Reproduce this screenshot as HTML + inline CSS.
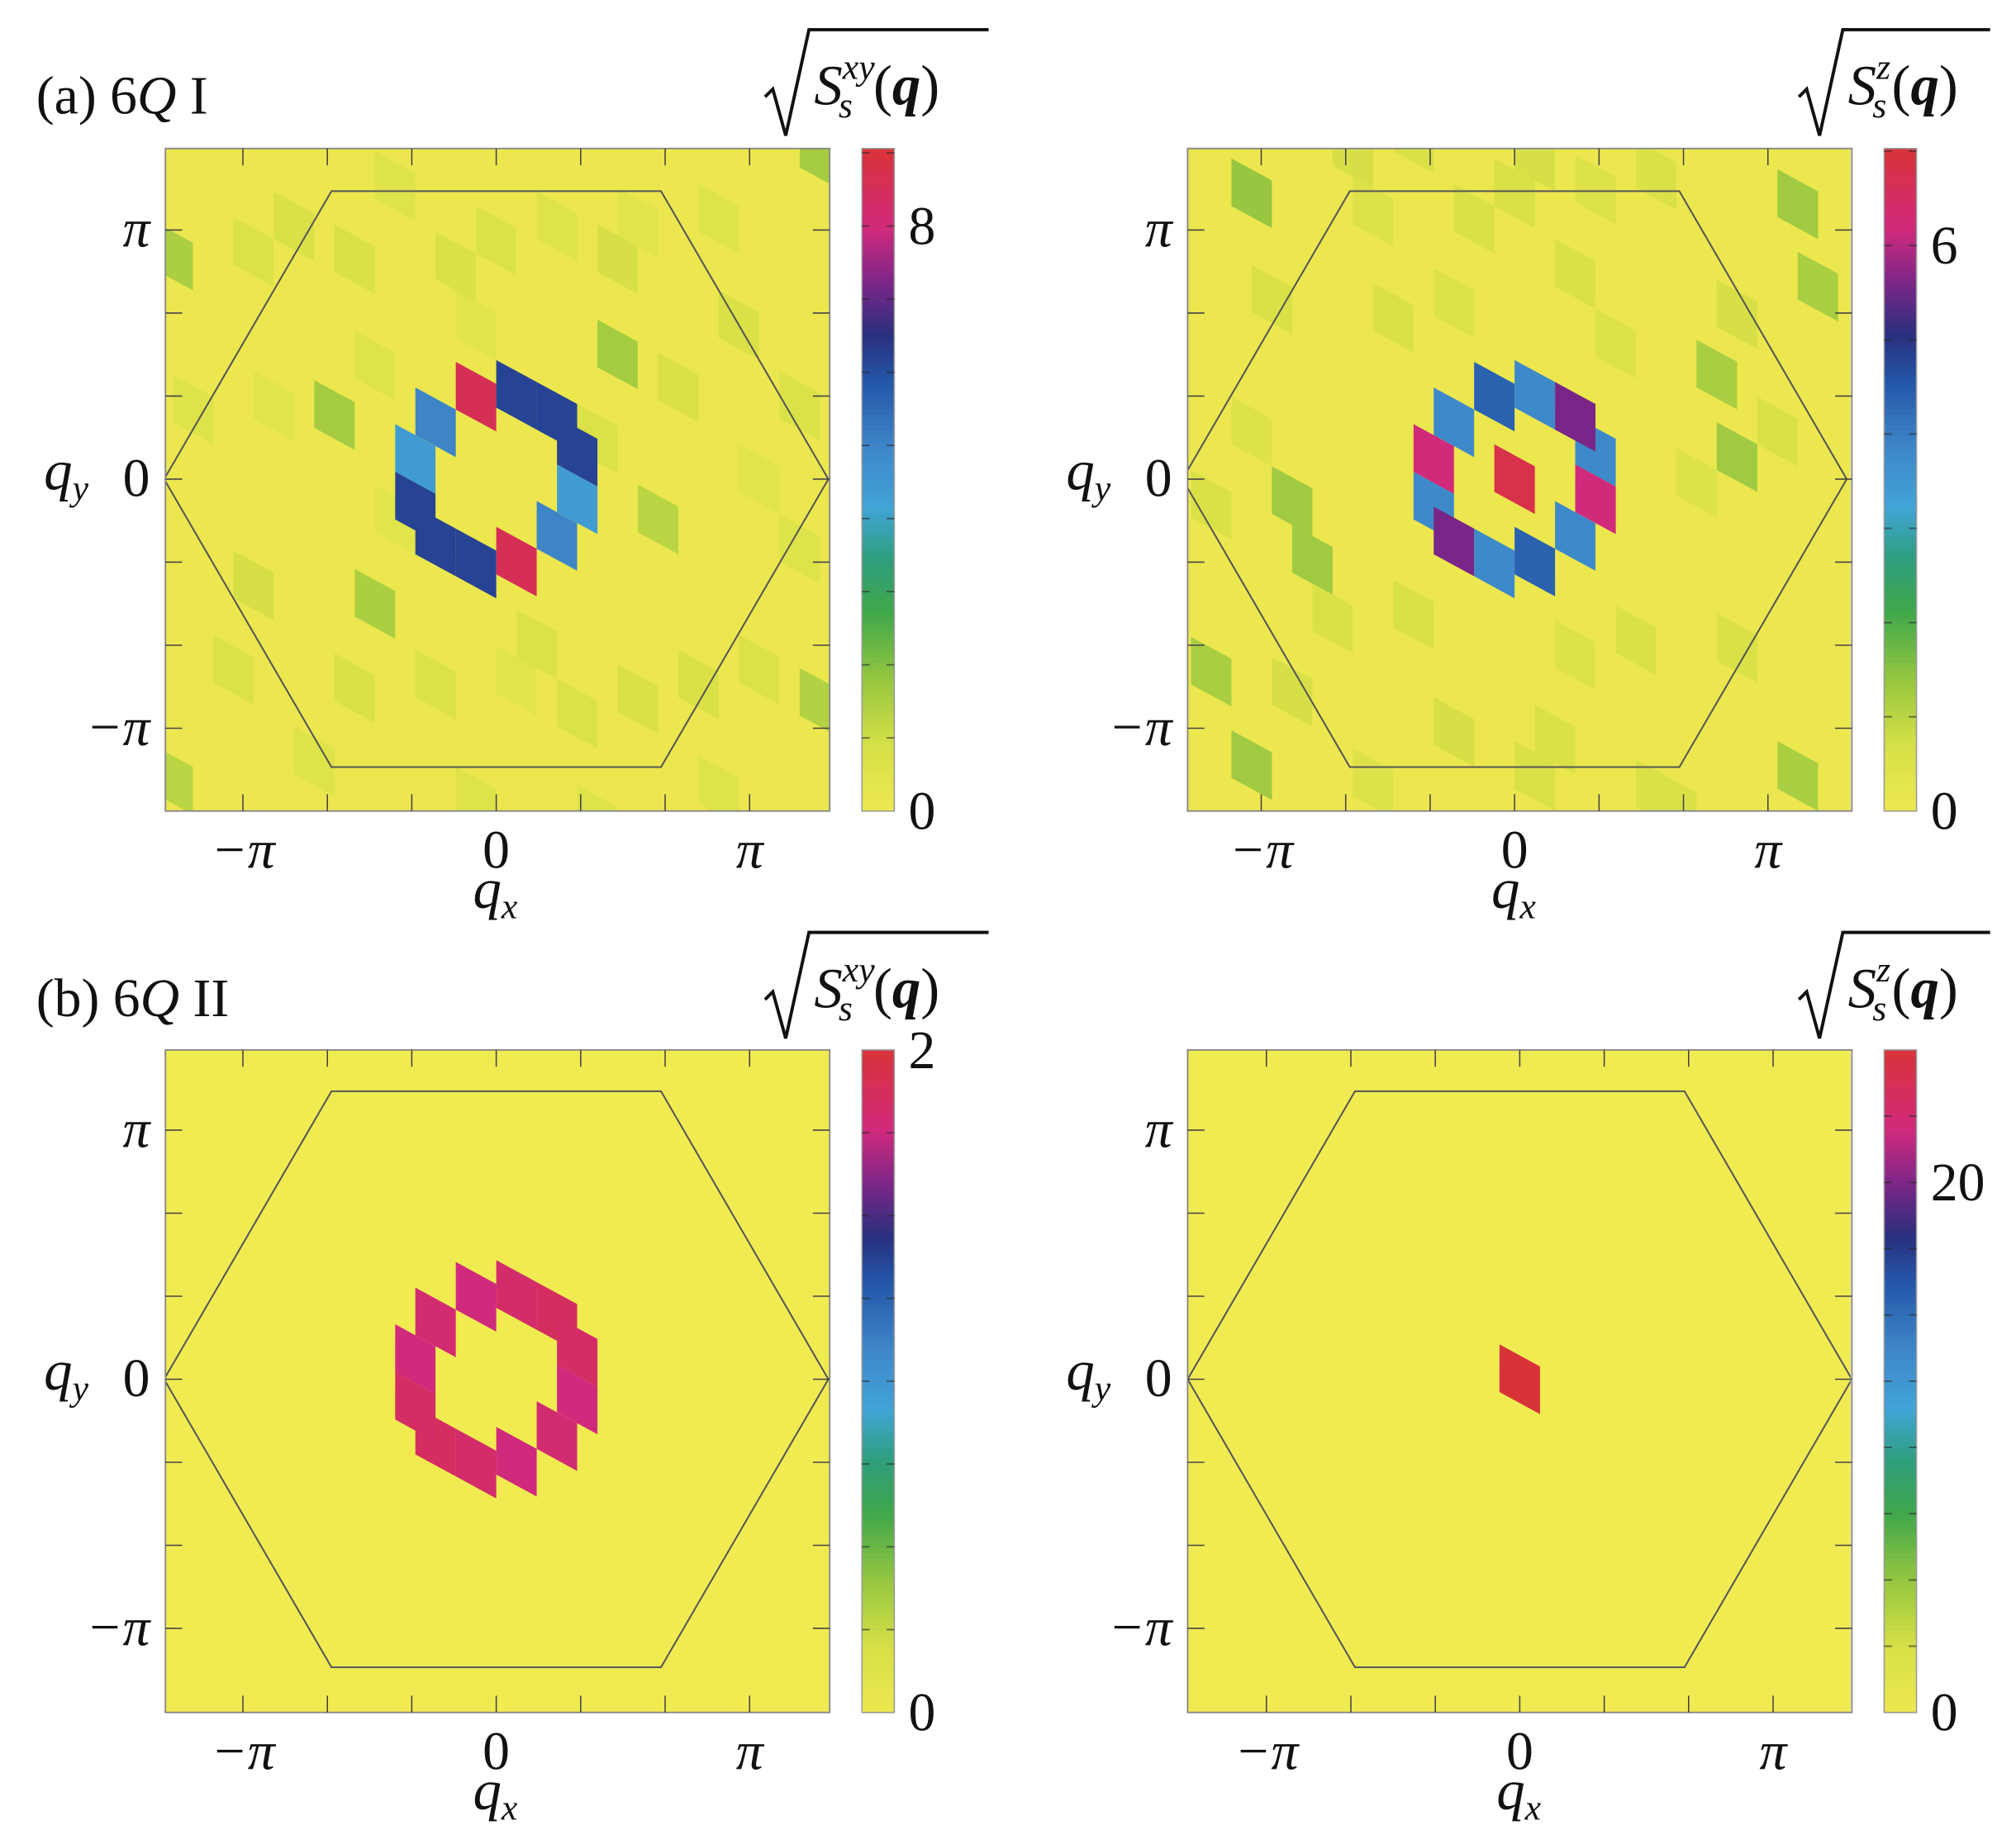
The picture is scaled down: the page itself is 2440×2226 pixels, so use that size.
<!DOCTYPE html>
<html><head><meta charset="utf-8"><style>
html,body{margin:0;padding:0;background:#fff;}
svg{display:block;}
text{font-family:"Liberation Serif","DejaVu Serif",serif;fill:#111;}
</style></head>
<body>
<svg id="fig" xmlns="http://www.w3.org/2000/svg" width="2440" height="2226" viewBox="0 0 1560 1424" preserveAspectRatio="none">
<defs>
<clipPath id="clipA1"><rect x="128" y="115" width="514" height="513"/></clipPath>
<clipPath id="clipA2"><rect x="919" y="115" width="513" height="513"/></clipPath>
<clipPath id="clipB1"><rect x="128" y="813" width="514" height="513"/></clipPath>
<clipPath id="clipB2"><rect x="919" y="813" width="513" height="513"/></clipPath>
</defs>
<g id="root"></g>
</svg>
<script>
// ---- data: cells on skewed lattice [a,b], values ----
const ringA1Pos = [[-3,-1],[3,1],[-4,1],[4,-1],[1,-4],[3,-4],[4,-3],[-1,4],[-3,4],[-4,3],[-1,-3],[1,3]];
const ringA1Val = [5.0,5.0,4.4,4.4,6.2,6.2,6.2,6.2,6.2,6.2,8.6,8.6];
const noiseA1Pos = [[-8,1],[6,-8],[-6,8],[8,-2],[-16,-2],[16,-21],[16,2],[-16,20],[-10,-6],[2,6],[-2,-8],[10,4],[-12,10],[12,-12],[0,-10],[4,8],
  [-14,-10],[-12,-4],[-9,-12],[-7,-6],[-5,-10],[-3,-14],[1,-16],[3,-12],[5,-4],[7,-14],[9,-8],[11,-16],[13,-6],[15,-10],
  [-15,4],[-13,14],[-11,2],[-9,16],[-7,12],[-5,4],[-3,10],[-1,14],[1,8],[3,16],[5,12],[7,6],[9,12],[11,8],[13,2],[15,-4],[-1,-6],[6,-12],[-6,-2]];
const noiseA1Val = [1.6,1.6,1.5,1.3,1.5,1.6,1.4,1.3,0.8,0.7,0.8,0.8,0.9,0.8,0.7,0.7,
  0.6,0.7,0.5,0.8,0.6,0.7,0.5,0.6,0.7,0.5,0.8,0.6,0.5,0.7,
  0.6,0.7,0.5,0.6,0.8,0.5,0.7,0.6,0.5,0.7,0.6,0.8,0.5,0.6,0.7,0.6,0.5,0.9,0.6];

const ringA2Pos = [[-3,-1],[1,-4],[4,-3],[3,1],[-1,4],[-4,3],[-1,-3],[1,3],[3,-4],[-3,4],[-4,1],[4,-1],[0,0]];
const ringA2Val = [3.8,3.8,3.8,3.8,3.8,3.8,4.4,4.4,5.6,5.6,6.2,6.2,6.8];
const noiseA2Pos = [[-13,-6],[-11,6],[-10,8],[11,-6],[10,-9],[14,-18],[15,-15],[-13,18],[-15,15],[14,6],[-6,-4],[6,4],[-8,-10],[8,10],[0,-12],[2,10],
  [-14,-12],[-12,-2],[-9,-14],[-7,-8],[-5,-12],[-3,-6],[1,-14],[3,-10],[5,-8],[7,-16],[9,-4],[11,-12],[13,-8],
  [-15,8],[-13,4],[-11,14],[-9,10],[-7,16],[-5,8],[-3,12],[-1,16],[1,12],[3,6],[5,14],[7,10],[9,16],[11,2],[13,12],[-2,-10],[4,-14]];
const noiseA2Val = [1.4,1.3,1.3,1.3,1.2,1.3,1.2,1.3,1.2,1.2,0.6,0.6,0.7,0.6,0.6,0.6,
  0.5,0.6,0.7,0.5,0.6,0.5,0.7,0.6,0.5,0.6,0.5,0.7,0.6,
  0.6,0.5,0.7,0.6,0.5,0.6,0.7,0.5,0.6,0.5,0.7,0.6,0.5,0.6,0.5,0.6,0.5];

const ringB1Pos = [[-3,-1],[3,1],[-4,1],[4,-1],[1,-4],[3,-4],[4,-3],[-1,4],[-3,4],[-4,3],[-1,-3],[1,3]];
const ringB1Val = [1.8,1.8,1.76,1.76,1.82,1.86,1.84,1.82,1.86,1.84,1.76,1.76];
const noiseB1Pos = [];
const noiseB1Val = [];

const ringB2Pos = [[0,0]];
const ringB2Val = [25];
const noiseB2Pos = [];
const noiseB2Val = [];

const cbarMaxA1 = 9.06, cbarMaxA2 = 7.03, cbarMaxB1 = 2.0, cbarMaxB2 = 25.0;
const cbarLabelsA1 = [0, 8], cbarLabelsA2 = [0, 6], cbarLabelsB1 = [0, 2], cbarLabelsB2 = [0, 20];
const cbarStepA1 = 1, cbarStepA2 = 1, cbarStepB1 = 0.25, cbarStepB2 = 2.5;
const axisTickLabels = ["\u2212\u03c0", "0", "\u03c0"];
const axisTickValues = [-Math.PI, 0, Math.PI];

// ---- rendering ----
const NS = "http://www.w3.org/2000/svg";
const root = document.getElementById('root');
function mk(tag, attrs, parent) {
  const e = document.createElementNS(NS, tag);
  for (const k in attrs) e.setAttribute(k, attrs[k]);
  (parent || root).appendChild(e);
  return e;
}
const stops = [[0,[238,232,80]],[0.1,[214,224,70]],[0.2,[150,198,64]],[0.3,[64,168,74]],[0.38,[46,158,124]],[0.46,[66,164,216]],[0.55,[62,134,200]],[0.65,[36,86,168]],[0.72,[42,47,126]],[0.8,[126,38,136]],[0.88,[208,42,124]],[1,[217,51,58]]];
function cmap(t) {
  t = Math.max(0, Math.min(1, t));
  for (let i = 1; i < stops.length; i++) {
    if (t <= stops[i][0]) {
      const a = stops[i-1], b = stops[i], f = (t - a[0]) / (b[0] - a[0]);
      const c = a[1].map((v, k) => Math.round(v + (b[1][k] - v) * f));
      return `rgb(${c[0]},${c[1]},${c[2]})`;
    }
  }
  return 'rgb(217,51,58)';
}
const W = 31.3, H = 36.9, SL = 0.544;
const PX = 62.4, PY = 61.4;

function panel(cfg) {
  const {x0, y0, cx, cy, clip, pos, val, npos, nval, max, labels, step, bg, name} = cfg;
  const g = mk('g', {'clip-path': `url(#${clip})`});
  
  
  const bgr = mk('rect', {x: x0, y: y0, width: 514, height: 513, fill: bg}, g);
  
  
  const draw = (p, v, kind) => {
    const ccx = cx + p[0] * W / 2, ccy = cy + SL * p[0] * W / 2 + p[1] * H / 2;
    const pts = [[ccx - W/2, ccy - H/2 - SL*W/2], [ccx + W/2, ccy - H/2 + SL*W/2], [ccx + W/2, ccy + H/2 + SL*W/2], [ccx - W/2, ccy + H/2 - SL*W/2]];
    const poly = mk('polygon', {points: pts.map(q => q[0].toFixed(1) + ',' + q[1].toFixed(1)).join(' '), fill: cmap(v / max)}, g);
    
    
  };
  npos.forEach((p, i) => draw(p, nval[i], 'noise-cell'));
  pos.forEach((p, i) => draw(p, val[i], 'peak-cell'));
  const R = 257, hh = 223;
  const hex = mk('polygon', {points: `${cx-R},${cy} ${cx-R/2+1},${cy-hh} ${cx+R/2-1},${cy-hh} ${cx+R},${cy} ${cx+R/2-1},${cy+hh} ${cx-R/2+1},${cy+hh}`, fill: 'none', stroke: '#555', 'stroke-width': 1.3}, g);
  
  
  const fr = mk('rect', {x: x0, y: y0, width: 514, height: 513, fill: 'none', stroke: '#888', 'stroke-width': 1.2});
  
  
  for (let k = -4; k <= 4; k++) {
    const tx = cx + k * Math.PI / 3 * PX;
    if (tx > x0 + 2 && tx < x0 + 512) {
      mk('line', {x1: tx, y1: y0 + 513, x2: tx, y2: y0 + 500, stroke: '#444', 'stroke-width': 1});
      mk('line', {x1: tx, y1: y0, x2: tx, y2: y0 + 13, stroke: '#444', 'stroke-width': 1});
    }
    const ty = cy - k * Math.PI / 3 * PY;
    if (ty > y0 + 2 && ty < y0 + 511) {
      mk('line', {x1: x0, y1: ty, x2: x0 + 13, y2: ty, stroke: '#444', 'stroke-width': 1});
      mk('line', {x1: x0 + 514, y1: ty, x2: x0 + 501, y2: ty, stroke: '#444', 'stroke-width': 1});
    }
  }
  axisTickValues.forEach((v, i) => {
    const t1 = mk('text', {x: cx + v * PX, y: y0 + 557, 'font-size': 42, 'text-anchor': 'middle', 'font-style': i === 1 ? 'normal' : 'italic'});
    t1.textContent = axisTickLabels[i];
    
    
    const t2 = mk('text', {x: x0 - 12, y: cy - v * PY + 13, 'font-size': 42, 'text-anchor': 'end', 'font-style': i === 1 ? 'normal' : 'italic'});
    t2.textContent = axisTickLabels[i];
    
    
  });
  const xl = mk('text', {x: cx - 18, y: y0 + 588, 'font-size': 44, 'font-style': 'italic'});
  xl.innerHTML = 'q<tspan font-size="28" dy="8">x</tspan>';
  
  
  const yl = mk('text', {x: x0 - 94, y: cy + 8, 'font-size': 44, 'font-style': 'italic'});
  yl.innerHTML = 'q<tspan font-size="28" dy="8">y</tspan>';
  
  
  const bx = x0 + 539, bw = 25;
  const cb = mk('g', {});
  
  
  const N = 120;
  for (let i = 0; i < N; i++) {
    mk('rect', {x: bx, y: y0 + 513 - (i + 1) * 513 / N, width: bw, height: 513 / N + 0.6, fill: cmap((i + 0.5) / N)}, cb);
  }
  mk('rect', {x: bx, y: y0, width: bw, height: 513, fill: 'none', stroke: '#999', 'stroke-width': 1}, cb);
  for (let v = step; v < max - 1e-6; v += step) {
    const ty = y0 + 513 - v / max * 513;
    mk('line', {x1: bx, y1: ty, x2: bx + 6, y2: ty, stroke: 'rgba(40,40,40,0.6)', 'stroke-width': 1.2}, cb);
    mk('line', {x1: bx + bw - 6, y1: ty, x2: bx + bw, y2: ty, stroke: 'rgba(40,40,40,0.6)', 'stroke-width': 1.2}, cb);
  }
  labels.forEach(v => {
    const t = mk('text', {x: bx + 36, y: y0 + 513 - v / max * 513 + 14, 'font-size': 42});
    t.textContent = v;
    
    
  });
}

panel({name: 'a-sxy', x0: 128, y0: 115, cx: 384, cy: 371, clip: 'clipA1', pos: ringA1Pos, val: ringA1Val, npos: noiseA1Pos, nval: noiseA1Val, max: cbarMaxA1, labels: cbarLabelsA1, step: cbarStepA1, bg: '#ece74f'});
panel({name: 'a-sz', x0: 919, y0: 115, cx: 1172, cy: 371, clip: 'clipA2', pos: ringA2Pos, val: ringA2Val, npos: noiseA2Pos, nval: noiseA2Val, max: cbarMaxA2, labels: cbarLabelsA2, step: cbarStepA2, bg: '#ece74f'});
panel({name: 'b-sxy', x0: 128, y0: 813, cx: 384, cy: 1068, clip: 'clipB1', pos: ringB1Pos, val: ringB1Val, npos: noiseB1Pos, nval: noiseB1Val, max: cbarMaxB1, labels: cbarLabelsB1, step: cbarStepB1, bg: '#f1eb52'});
panel({name: 'b-sz', x0: 919, y0: 813, cx: 1176, cy: 1068, clip: 'clipB2', pos: ringB2Pos, val: ringB2Val, npos: noiseB2Pos, nval: noiseB2Val, max: cbarMaxB2, labels: cbarLabelsB2, step: cbarStepB2, bg: '#f1eb52'});

function title(txt, y) {
  const t = mk('text', {x: 28, y: y, 'font-size': 42});
  t.innerHTML = txt;
  
  
}
title('(a) 6<tspan font-style="italic">Q</tspan> I', 88);
title('(b) 6<tspan font-style="italic">Q</tspan> II', 787);

function cbTitle(x, y, sup, endX) {
  const p = mk('path', {d: `M${x},${y - 8} L${x + 6},${y - 14} L${x + 16},${y + 22} L${x + 34},${y - 60} L${endX},${y - 60}`, fill: 'none', stroke: '#111', 'stroke-width': 2.5});
  
  
  const t = mk('text', {x: x + 38, y: y - 2, 'font-size': 44});
  t.innerHTML = `<tspan font-style="italic">S</tspan><tspan font-style="italic" font-size="28" dy="-20">${sup}</tspan><tspan font-style="italic" font-size="28" dx="-${sup.length * 14}" dy="30">s</tspan><tspan dy="-10" dx="${sup.length > 1 ? 16 : 4}">(</tspan><tspan font-weight="bold" font-style="italic">q</tspan>)`;
  
  
}
cbTitle(592, 83, 'xy', 765);
cbTitle(1392, 83, 'z', 1540);
cbTitle(592, 782, 'xy', 765);
cbTitle(1392, 782, 'z', 1540);
</script>
</body></html>
